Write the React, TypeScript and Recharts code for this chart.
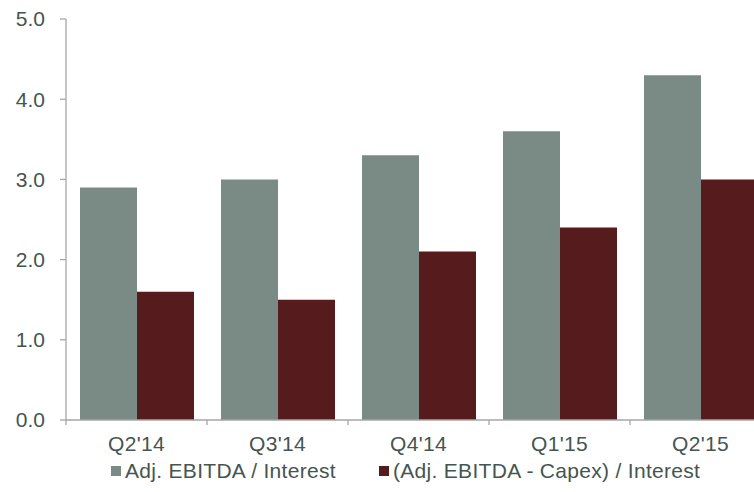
import React from 'react';
import { BarChart, Bar, XAxis, YAxis } from 'recharts';

const quarters = ["Q2'14", "Q3'14", "Q4'14", "Q1'15", "Q2'15"];
const ebitdaInterest = [2.9, 3.0, 3.3, 3.6, 4.3];
const ebitdaCapexInterest = [1.6, 1.5, 2.1, 2.4, 3.0];
const yTicks = [0, 1, 2, 3, 4, 5];

const seriesNames = ['Adj. EBITDA / Interest', '(Adj. EBITDA - Capex) / Interest'];
const colors = ['#7a8b86', '#561b1c'];
const textColor = '#45554f';
const axisColor = '#a6a6a6';
const font = '"Liberation Sans", Arial, sans-serif';

const data = quarters.map((q, i) => ({
  quarter: q,
  a: ebitdaInterest[i],
  b: ebitdaCapexInterest[i],
}));

const QuarterTick = (props: any) => {
  const { x, y, payload, index, width } = props;
  const band = (width || 705) / quarters.length;
  return (
    <g>
      <line x1={x - band / 2} x2={x - band / 2} y1={y} y2={y + 5} stroke={axisColor} strokeWidth={1.3} />
      {index === quarters.length - 1 && (
        <line x1={x + band / 2} x2={x + band / 2} y1={y} y2={y + 5} stroke={axisColor} strokeWidth={1.3} />
      )}
      <text x={x} y={y + 31} textAnchor="middle" fill={textColor} fontSize={21} letterSpacing={0.3} fontFamily={font}>
        {payload.value}
      </text>
    </g>
  );
};

const App: React.FC = () => {
  return (
    <div style={{ position: 'absolute', left: 0, top: 0, width: 754, height: 492, overflow: 'hidden', background: '#fff', fontFamily: font }}>
      <BarChart
        width={771}
        height={492}
        data={data}
        margin={{ top: 19, right: 0, left: 0, bottom: 42 }}
        barCategoryGap={14}
        barGap={0}
      >
        <YAxis
          domain={[0, 5]}
          ticks={yTicks}
          width={66}
          tickSize={6}
          tickMargin={15}
          interval={0}
          tickFormatter={(v: number) => v.toFixed(1)}
          axisLine={{ stroke: axisColor, strokeWidth: 1.3 }}
          tickLine={{ stroke: axisColor, strokeWidth: 1.3 }}
          tick={{ fill: textColor, fontSize: 21, fontFamily: font }}
        />
        <XAxis
          dataKey="quarter"
          height={30}
          tickSize={0}
          tickMargin={0}
          interval={0}
          axisLine={{ stroke: axisColor, strokeWidth: 1.3 }}
          tickLine={false}
          tick={<QuarterTick />}
        />
        <Bar dataKey="a" name={seriesNames[0]} fill={colors[0]} isAnimationActive={false} />
        <Bar dataKey="b" name={seriesNames[1]} fill={colors[1]} isAnimationActive={false} />
      </BarChart>
      <div style={{ position: 'absolute', left: 111, top: 459, display: 'flex', alignItems: 'center', fontSize: 21, letterSpacing: 0.3, color: textColor }}>
        {seriesNames.map((name, i) => (
          <div key={name} style={{ display: 'flex', alignItems: 'center', width: i === 0 ? 268 : undefined }}>
            <span style={{ display: 'inline-block', width: 10, height: 10, background: colors[i], marginRight: 4 }} />
            <span style={{ whiteSpace: 'nowrap' }}>{name}</span>
          </div>
        ))}
      </div>
    </div>
  );
};

export default App;
